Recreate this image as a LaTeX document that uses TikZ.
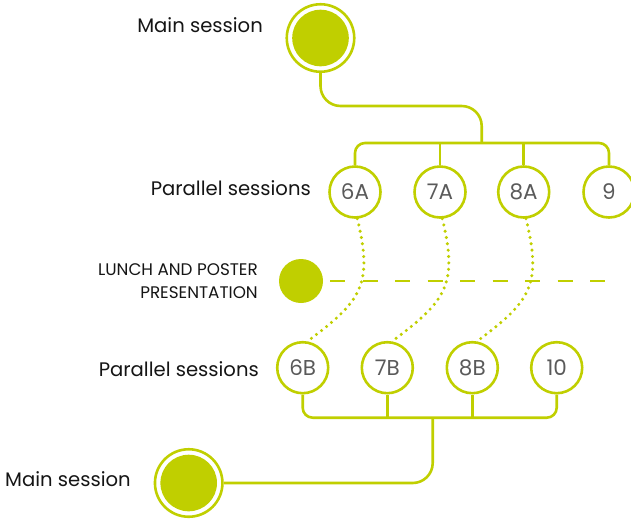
\documentclass[tikz,border=0pt]{standalone}
\usepackage{fontspec}
\setmainfont{Poppins}
\definecolor{lime}{HTML}{C0CF00}
\definecolor{numgray}{HTML}{5A5A5A}
\definecolor{labelblack}{HTML}{151515}
\begin{document}
\begin{tikzpicture}[x=1pt,y=-1pt,
  conn/.style={draw=lime,line width=2.6pt},
  dotconn/.style={draw=lime,line width=3.4pt,line cap=round,dash pattern=on 0pt off 6.4pt},
  dashconn/.style={draw=lime,line width=2.6pt,dash pattern=on 15pt off 17.5pt},
  sess/.style={circle,draw=lime,line width=2.6pt,minimum size=51pt,inner sep=0pt,
    text=numgray,font=\fontsize{21.5}{24}\selectfont},
  maincirc/.style={circle,draw=lime,line width=2.6pt,minimum size=67.5pt,inner sep=0pt,
    path picture={\fill[lime] (path picture bounding box.center) circle (28.3pt);}},
  lunchcirc/.style={circle,fill=lime,minimum size=44pt,inner sep=0pt},
  lbl/.style={text=labelblack,font=\fontsize{19.6}{22}\selectfont,inner sep=0pt},
  smalllbl/.style={text=labelblack,font=\fontsize{16.8}{23}\selectfont,inner sep=0pt,align=right}]
\useasboundingbox (0,0) rectangle (631,520);

% main sessions
\node[maincirc] (m1) at (320.5,38) {};
\node[maincirc] (m2) at (188.7,483) {};
\node[lbl,anchor=east] (m1l) at (263,25) {Main session};
\node[lbl,anchor=west] (m2l) at (5,479) {Main session};

% parallel sessions A
\node[sess] (a6) at (355,192) {6A};
\node[sess] (a7) at (440,192) {7A};
\node[sess] (a8) at (523.7,192) {8A};
\node[sess] (a9) at (609,192) {9};
\node[lbl,anchor=east] (pal) at (311,188) {Parallel sessions};

% parallel sessions B
\node[sess] (b6) at (302.7,367.7) {6B};
\node[sess] (b7) at (387.3,367.7) {7B};
\node[sess] (b8) at (472.3,367.7) {8B};
\node[sess] (b10) at (556.7,367.7) {10};
\node[lbl,anchor=east] (pbl) at (259,369) {Parallel sessions};

% lunch
\node[lunchcirc] (lunch) at (301,281) {};
\node[smalllbl,anchor=east] (lunchl) at (258,281.5) {LUNCH AND POSTER\\PRESENTATION};
\coordinate (dend) at (607,281);
\draw[dashconn] ([xshift=7pt]lunch.east) -- (dend);

% top connectors
\coordinate (tb) at (481.7,106);
\coordinate (jA) at (481.7,143);
\draw[conn,rounded corners=20pt] (m1.south) |- (tb) -- (jA);
\draw[conn,rounded corners=10pt] (a6.north) |- (jA) -| (a9.north);
\draw[conn] (a7.north) -- (a7.north |- jA);
\draw[conn] (a8.north) -- (a8.north |- jA);

% bottom connectors
\coordinate (jB) at (432.7,417.7);
\draw[conn,rounded corners=10pt] (b6.south) |- (jB) -| (b10.south);
\draw[conn] (b7.south) -- (b7.south |- jB);
\draw[conn] (b8.south) -- (b8.south |- jB);
\draw[conn,rounded corners=20pt] (jB) |- (m2.east);

% dotted transitions
\draw[dotconn] (a6.-85) .. controls +(16,66) and +(54,-40) .. (b6.80);
\draw[dotconn] (a7.-85) .. controls +(16,66) and +(54,-40) .. (b7.80);
\draw[dotconn] (a8.-85) .. controls +(16,66) and +(54,-40) .. (b8.80);
\end{tikzpicture}
\end{document}
